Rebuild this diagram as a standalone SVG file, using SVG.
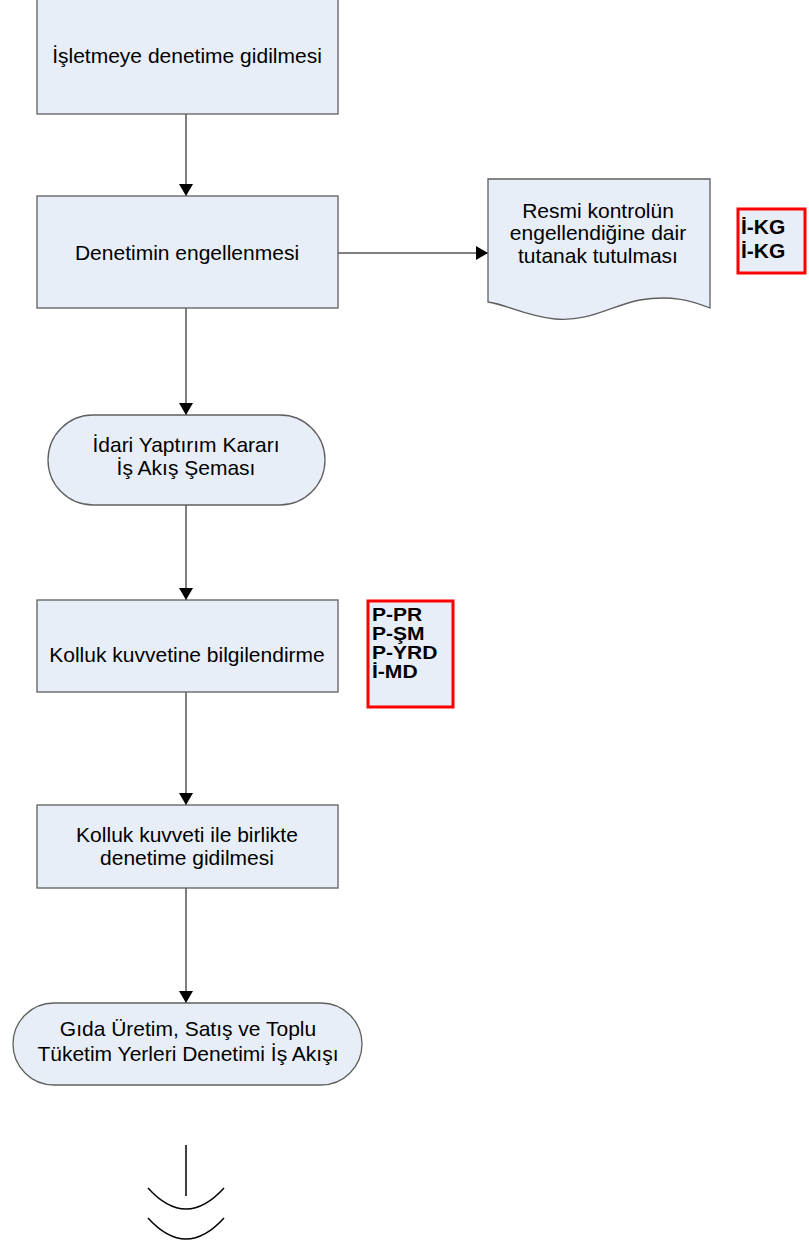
<svg xmlns="http://www.w3.org/2000/svg" width="809" height="1246" viewBox="0 0 809 1246">
<style>
.n{fill:#E8EEF8;stroke:#5F5F5F;stroke-width:1.3}
.t{font-family:"Liberation Sans",Arial,sans-serif;font-size:21px;fill:#000;text-anchor:middle}
.r{fill:#E8EEF8;stroke:#FF0000;stroke-width:3}
.b{font-family:"Liberation Sans",Arial,sans-serif;font-size:21px;font-weight:bold;fill:#000}
.bs{font-family:"Liberation Sans",Arial,sans-serif;font-size:18px;font-weight:bold;fill:#000}
.c{stroke:#000;stroke-width:1;fill:none}
.a{stroke:#000;stroke-width:1.5;fill:none}
</style>
<defs>
<marker id="ah" markerWidth="12" markerHeight="14" refX="12" refY="7" orient="auto" markerUnits="userSpaceOnUse">
<path d="M0,0 L12,7 L0,14 Z" fill="#000"/>
</marker>
</defs>
<g id="connectors">
<line class="c" x1="186" y1="114" x2="186" y2="196" marker-end="url(#ah)"/>
<line class="c" x1="338" y1="253" x2="488" y2="253" marker-end="url(#ah)"/>
<line class="c" x1="186" y1="308" x2="186" y2="415" marker-end="url(#ah)"/>
<line class="c" x1="186" y1="505" x2="186" y2="600" marker-end="url(#ah)"/>
<line class="c" x1="186" y1="692" x2="186" y2="805" marker-end="url(#ah)"/>
<line class="c" x1="186" y1="888" x2="186" y2="1003" marker-end="url(#ah)"/>
</g>
<g id="n1">
<rect class="n" x="37" y="-1" width="301" height="115"/>
<text class="t" x="187" y="63">İşletmeye denetime gidilmesi</text>
</g>
<g id="n2">
<rect class="n" x="37" y="196" width="301" height="112"/>
<text class="t" x="187" y="260">Denetimin engellenmesi</text>
</g>
<g id="n3">
<path class="n" d="M488,179 L710,179 L710,308 C690,300 670,295 640,300 C610,306 590,322 555,319 C525,316 505,304 488,302 Z"/>
<text class="t" x="598" y="218">Resmi kontrolün</text>
<text class="t" x="598" y="240">engellendiğine dair</text>
<text class="t" x="598" y="263">tutanak tutulması</text>
</g>
<g id="n4">
<rect class="r" x="738" y="209" width="67" height="64"/>
<text class="b" x="741" y="234">İ-KG</text>
<text class="b" x="741" y="258">İ-KG</text>
</g>
<g id="n5">
<rect class="n" x="48" y="415" width="277" height="90" rx="45" ry="45"/>
<text class="t" x="186" y="452">İdari Yaptırım Kararı</text>
<text class="t" x="186" y="475">İş Akış Şeması</text>
</g>
<g id="n6">
<rect class="n" x="37" y="600" width="301" height="92"/>
<text class="t" x="187" y="662">Kolluk kuvvetine bilgilendirme</text>
</g>
<g id="n7">
<rect class="r" x="368" y="601" width="85" height="106"/>
<g class="bs" transform="translate(372,0) scale(1.17,1)">
<text x="0" y="621">P-PR</text>
<text x="0" y="640">P-ŞM</text>
<text x="0" y="659">P-YRD</text>
<text x="0" y="678">İ-MD</text>
</g>
</g>
<g id="n8">
<rect class="n" x="37" y="805" width="301" height="83"/>
<text class="t" x="187" y="842">Kolluk kuvveti ile birlikte</text>
<text class="t" x="187" y="865">denetime gidilmesi</text>
</g>
<g id="n9">
<rect class="n" x="13" y="1003" width="349" height="82" rx="41" ry="41"/>
<text class="t" x="188" y="1036">Gıda Üretim, Satış ve Toplu</text>
<text class="t" x="188" y="1061">Tüketim Yerleri Denetimi İş Akışı</text>
</g>
<g id="n10">
<line class="a" x1="186" y1="1145" x2="186" y2="1196"/>
<path class="a" d="M148,1188 Q186,1230 224,1188"/>
<path class="a" d="M148,1218 Q186,1260 224,1218"/>
</g>
</svg>
